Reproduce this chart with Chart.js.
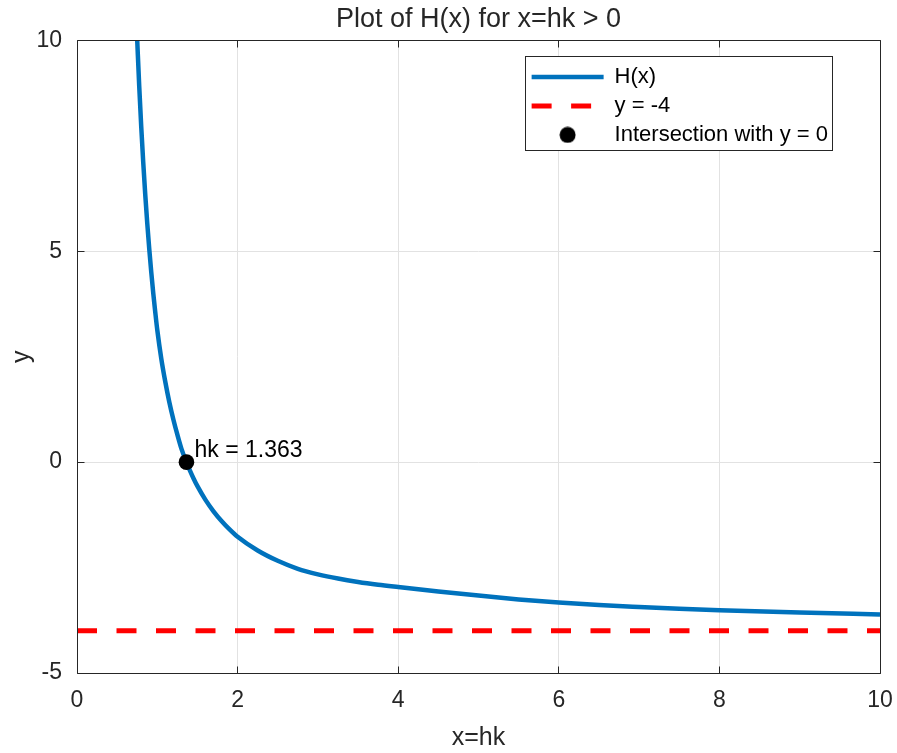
<!DOCTYPE html>
<html>
<head>
<meta charset="utf-8">
<title>Plot of H(x)</title>
<script src="https://cdn.jsdelivr.net/npm/chart.js@4.4.0/dist/chart.umd.min.js"></script>
<style>
  html, body { margin: 0; padding: 0; background: #fff; }
  #wrap { width: 897px; height: 753px; }
</style>
</head>
<body>
<div id="wrap"><canvas id="myChart" width="897" height="753"></canvas></div>
<script>
// values
const hX = [0.75, 0.775, 0.80, 0.825, 0.85, 0.875, 0.90, 0.925, 0.95, 0.975, 1.00, 1.05, 1.10, 1.15, 1.20, 1.25, 1.30, 1.363,
            1.40, 1.45, 1.50, 1.60, 1.70, 1.80, 1.90, 2.00, 2.25, 2.50, 2.75, 3.00, 3.25, 3.50, 3.75, 4.00,
            4.50, 5.00, 5.50, 6.00, 6.50, 7.00, 7.50, 8.00, 9.00, 10.00];
const hY = [10.00, 8.91, 7.95, 7.10, 6.34, 5.66, 5.05, 4.50, 4.00, 3.55, 3.13, 2.45, 1.90, 1.42, 1.01, 0.65, 0.32, 0.00,
            -0.17, -0.38, -0.57, -0.895, -1.165, -1.395, -1.595, -1.77, -2.095, -2.34, -2.53, -2.66, -2.76, -2.84, -2.905, -2.96,
            -3.065, -3.165, -3.255, -3.33, -3.39, -3.435, -3.475, -3.51, -3.565, -3.61];
const asymX = [0, 10];
const asymY = [-4, -4];
const markX = [1.363];
const markY = [0];
const xRange = [0, 10], xStep = 2;
const yRange = [-5, 10], yStep = 5;
const labels = ['H(x)', 'y = -4', 'Intersection with y = 0'];

const FONT = "'Liberation Sans', Arial, Helvetica, sans-serif";
const AXIS = '#262626';
const GRID = '#e2e2e2';

function pts(xs, ys) {
    return xs.map((x, i) => ({x: x, y: ys[i]}));
}

// black dot used as the legend marker (an ellipse otherwise)
const dot = document.createElement('canvas');
dot.width = 17; dot.height = 17;
const g = dot.getContext('2d');
g.fillStyle = '#000';
g.beginPath(); g.arc(8.5, 8.5, 8, 0, 2 * Math.PI); g.fill();

function align(v) { return Math.round(v - 0.5) + 0.5; }

const matlabBox = {
    id: 'matlabBox',
    afterLayout(chart) {
        const lg = chart.legend, a = chart.chartArea;
        if (!lg || !lg.columnSizes || !lg.columnSizes.length) return;
        const pad = lg.options.labels.padding;
        const n = lg.legendItems.length;
        const boxW = lg.columnSizes[0].width + 11;
        const boxH = 9 + n * 22 + (n - 1) * pad + 4.5;
        const boxR = a.right - 47, boxT = a.top + 16.5;
        const boxL = boxR - boxW;
        chart.$legendBox = {l: boxL, t: boxT, w: boxW, h: boxH};
        lg.left = boxL + 6 - pad;
        lg.top = boxT + 9 - pad;
        lg.right = a.right;
        lg.bottom = a.bottom;
        lg.width = lg.right - lg.left;
        lg.height = lg.bottom - lg.top;
    },
    afterDatasetsDraw(chart) {
        const {ctx, scales: {x, y}} = chart;
        ctx.save();
        ctx.fillStyle = '#000';
        ctx.font = '23px ' + FONT;
        ctx.textBaseline = 'alphabetic';
        ctx.textAlign = 'left';
        ctx.fillText('hk = ' + markX[0].toFixed(3), x.getPixelForValue(markX[0]) + 8, y.getPixelForValue(markY[0]) - 5.5);
        ctx.restore();
    },
    afterDraw(chart) {
        const {ctx, chartArea: a, scales: {x, y}} = chart;
        const L = align(a.left), R = align(a.right), T = align(a.top), B = align(a.bottom);
        ctx.save();
        ctx.strokeStyle = AXIS;
        ctx.lineWidth = 1;
        ctx.beginPath();
        ctx.rect(L, T, R - L, B - T);
        x.ticks.forEach(t => {
            const p = align(x.getPixelForValue(t.value));
            ctx.moveTo(p, B); ctx.lineTo(p, B - 7);
            ctx.moveTo(p, T); ctx.lineTo(p, T + 7);
        });
        y.ticks.forEach(t => {
            const p = align(y.getPixelForValue(t.value));
            ctx.moveTo(L, p); ctx.lineTo(L + 7, p);
            ctx.moveTo(R, p); ctx.lineTo(R - 7, p);
        });
        ctx.stroke();
        // legend box, white so the grid does not show through
        const b = chart.$legendBox;
        if (b) {
            ctx.fillStyle = '#fff';
            ctx.fillRect(b.l, b.t, b.w, b.h);
            ctx.strokeRect(align(b.l), align(b.t), Math.round(b.w), Math.round(b.h));
        }
        ctx.restore();
        if (b) chart.legend.draw();
    }
};

const chart = new Chart(document.getElementById('myChart'), {
    type: 'scatter',
    data: {
        datasets: [
            {
                label: labels[0],
                data: pts(hX, hY),
                showLine: true,
                borderColor: '#0072BD',
                backgroundColor: '#0072BD',
                borderWidth: 4.5,
                pointRadius: 0,
                cubicInterpolationMode: 'monotone',
                legendStyle: 'line',
                order: 1
            },
            {
                label: labels[1],
                data: pts(asymX, asymY),
                showLine: true,
                borderColor: '#FF0000',
                backgroundColor: '#FF0000',
                borderWidth: 5,
                borderDash: [20, 19.5],
                pointRadius: 0,
                legendStyle: 'line',
                order: 2
            },
            {
                label: labels[2],
                data: pts(markX, markY),
                backgroundColor: '#000',
                borderColor: '#000',
                pointStyle: 'circle',
                pointRadius: 7.8,
                borderWidth: 0,
                legendStyle: dot,
                order: 0
            }
        ]
    },
    options: {
        responsive: false,
        animation: false,
        events: [],
        devicePixelRatio: 1,
        layout: { padding: { left: 0, right: 17, top: 0, bottom: 0 } },
        plugins: {
            title: {
                display: true,
                fullSize: false,   // centred over the axes, as MATLAB does
                text: 'Plot of H(x) for x=hk > 0',
                color: AXIS,
                font: { family: FONT, size: 27, weight: 'normal' },
                padding: { top: 3, bottom: 5 }
            },
            legend: {
                position: 'chartArea',
                align: 'start',
                labels: {
                    usePointStyle: true,
                    pointStyleWidth: 72,
                    padding: 7,
                    color: '#000',
                    font: { family: FONT, size: 22 },
                    generateLabels: (c) => c.data.datasets.map((ds, i) => ({
                        text: ds.label,
                        datasetIndex: i,
                        pointStyle: ds.legendStyle,
                        strokeStyle: ds.borderColor,
                        fillStyle: ds.backgroundColor,
                        lineWidth: ds.borderWidth,
                        lineDash: ds.borderDash || [],
                        fontColor: '#000',
                        hidden: false
                    }))
                }
            },
            tooltip: { enabled: false }
        },
        scales: {
            x: {
                type: 'linear',
                min: xRange[0],
                max: xRange[1],
                ticks: { stepSize: xStep, padding: 3, color: AXIS, maxRotation: 0, font: { family: FONT, size: 23 } },
                // invisible tick marks only push the labels down
                grid: { color: GRID, drawTicks: true, tickLength: 11, tickColor: 'rgba(0,0,0,0)' },
                border: { display: false },
                title: { display: true, text: 'x=hk', color: AXIS, font: { family: FONT, size: 25 }, padding: { top: 0, bottom: 0 } },
                afterFit: (s) => { s.height = 80; }
            },
            y: {
                type: 'linear',
                min: yRange[0],
                max: yRange[1],
                ticks: { stepSize: yStep, padding: 15, color: AXIS, font: { family: FONT, size: 23 } },
                grid: { color: GRID, drawTicks: false },
                border: { display: false },
                title: { display: true, text: 'y', color: AXIS, font: { family: FONT, size: 25 }, padding: { top: 7, bottom: 0 } },
                afterFit: (s) => { s.width = 77; }
            }
        }
    },
    plugins: [matlabBox]
});
</script>
</body>
</html>
